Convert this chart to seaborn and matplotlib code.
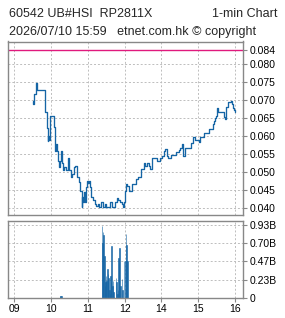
import matplotlib
matplotlib.use("Agg")
import matplotlib.pyplot as plt
import seaborn as sns
import pandas as pd

title_left = "60542 UB#HSI  RP2811X"
title_right = "1-min Chart"
subtitle = "2026/07/10 15:59   etnet.com.hk \u00a9 copyright"

price_times = ["09:30","09:31","09:33","09:35","09:38","09:48","09:50","09:53","09:54","09:55",
               "09:56","09:57","09:58","09:59","10:04","10:05","10:06","10:07","10:08","10:10",
               "10:12","10:13","10:14","10:16","10:17","10:18","10:20","10:22","10:23","10:25",
               "10:28","10:30","10:32","10:34","10:38","10:39","10:42","10:46","10:47","10:50",
               "10:51","10:52","10:54","10:55","10:57","10:58","11:00","11:02","11:04","11:06",
               "11:09","11:11","11:14","11:17","11:19","11:22","11:25","11:28","11:30","11:37",
               "11:40","11:44","11:47","11:49","11:52","11:55","11:57","11:59",
               "13:01","13:02","13:04","13:08","13:12","13:18","13:22","13:26","13:31","13:34",
               "13:37","13:40","13:42","13:45","13:53","13:58","14:01","14:04","14:06","14:09",
               "14:11","14:15","14:24","14:28","14:31","14:34","14:35","14:36","14:38","14:49",
               "14:52","14:54","15:01","15:03","15:10","15:18","15:24","15:26","15:28","15:29",
               "15:30","15:32","15:42","15:43","15:45","15:46","15:49","15:53","15:55","15:56",
               "15:58","16:00"]
price_values = [0.0699,0.0689,0.0716,0.0747,0.0727,0.0727,0.0666,0.0662,0.0624,0.0587,
                0.0600,0.0590,0.0643,0.0655,0.0655,0.0626,0.0583,0.0560,0.0578,0.0560,
                0.0532,0.0514,0.0532,0.0555,0.0560,0.0527,0.0505,0.0514,0.0515,0.0505,
                0.0540,0.0505,0.0486,0.0495,0.0514,0.0518,0.0486,0.0472,0.0449,0.0403,
                0.0431,0.0417,0.0445,0.0417,0.0458,0.0477,0.0469,0.0477,0.0458,0.0431,
                0.0422,0.0412,0.0407,0.0412,0.0403,0.0417,0.0403,0.0412,0.0403,0.0417,
                0.0403,0.0417,0.0428,0.0422,0.0417,0.0412,0.0403,0.0417,
                0.0449,0.0467,0.0463,0.0449,0.0467,0.0481,0.0486,0.0509,0.0527,0.0518,
                0.0527,0.0518,0.0509,0.0540,0.0530,0.0540,0.0546,0.0560,0.0564,0.0546,
                0.0540,0.0548,0.0555,0.0561,0.0567,0.0578,0.0555,0.0546,0.0567,0.0580,
                0.0598,0.0589,0.0583,0.0598,0.0610,0.0619,0.0633,0.0643,0.0652,0.0656,
                0.0678,0.0668,0.0654,0.0647,0.0672,0.0680,0.0695,0.0697,0.0689,0.0678,
                0.0672,0.0666]

vol_times = ["10:15","10:16","10:17",
             "11:23","11:24","11:25","11:26","11:27","11:28","11:29","11:30","11:31","11:32",
             "11:33","11:34","11:35","11:36","11:37","11:38","11:39","11:40","11:41","11:42",
             "11:43","11:46","11:47","11:48","11:49","11:50","11:51","11:52","11:53","11:56",
             "11:57","11:59","13:01","13:02","13:03","13:04","13:05"]
vol_values = [0.03,0.03,0.02,
              0.92,0.70,0.84,0.80,0.53,0.15,0.20,0.28,0.22,0.37,
              0.30,0.26,0.10,0.05,0.28,0.20,0.66,0.15,0.22,0.08,
              0.01,0.26,0.20,0.05,0.10,0.51,0.45,0.64,0.15,0.24,
              0.10,0.47,0.47,0.82,0.68,0.47,0.47]  # billions

ref_price = 0.084
price_ticks = [0.040,0.045,0.050,0.055,0.060,0.065,0.070,0.075,0.080]
vol_ticks = [0, 0.2333, 0.4667, 0.70, 0.9333]
vol_tick_labels = ["0","0.23B","0.47B","0.70B","0.93B"]
hour_times = ["09:00","10:00","11:00","12:00","14:00","15:00","16:00"]
hour_labels = ["09","10","11","12","14","15","16"]


def pos(t):
    h, m = map(int, t.split(":"))
    mins = (h - 9) * 60 + m
    if h >= 13:
        mins -= 60
    return mins


sns.set_style("white")
plt.rcParams['font.family'] = ['Liberation Sans', 'DejaVu Sans']

W, H = 285, 318
fig = plt.figure(figsize=(W / 100, H / 100), dpi=100)
L, R = 8, 243
ax1 = fig.add_axes([L / W, 1 - 215 / H, (R - L) / W, (215 - 41.5) / H])
ax2 = fig.add_axes([L / W, 1 - 298 / H, (R - L) / W, (298 - 221) / H], sharex=ax1)

line_color = "#1565a5"
spine_color = "#888888"
grid_kw = dict(color="#bdbdbd", linestyle=(0, (2, 2)), linewidth=0.7)

df_p = pd.DataFrame({"t": [pos(t) for t in price_times], "price": price_values})
df_v = pd.DataFrame({"t": [pos(t) for t in vol_times], "vol": vol_values})

sns.lineplot(data=df_p, x="t", y="price", ax=ax1, color=line_color, linewidth=0.95,
             drawstyle="steps-post", estimator=None, sort=False)
ax1.axhline(ref_price, color="#e0197d", linewidth=1.0)

sns.histplot(data=df_v, x="t", weights="vol", discrete=True, ax=ax2, color=line_color,
             alpha=1, edgecolor=line_color, linewidth=0.4)

hour_pos = [pos(t) for t in hour_times]
for ax in (ax1, ax2):
    ax.set_xlim(-10, 373)
    ax.set_xlabel("")
    ax.set_ylabel("")
    for s in ax.spines.values():
        s.set_visible(True)
        s.set_color(spine_color)
        s.set_linewidth(1.0)
    ax.yaxis.tick_right()
    ax.tick_params(axis="y", which="both", direction="out", length=3, width=0.8,
                   color=spine_color, labelsize=7.5, pad=1.5, labelcolor="black",
                   left=False, right=True)
    ax.set_xticks(hour_pos)
    for hp in hour_pos:
        ax.axvline(hp, **grid_kw, zorder=0)

ax1.set_ylim(0.03814, 0.0863)
ax1.set_yticks(price_ticks + [ref_price])
ax1.set_yticklabels([f"{v:.3f}" for v in price_ticks + [ref_price]])
for v in price_ticks:
    ax1.axhline(v, **grid_kw, zorder=0)
ax1.tick_params(axis="x", bottom=False, labelbottom=False)

ax2.set_ylim(0, 0.98)
ax2.set_yticks(vol_ticks)
ax2.set_yticklabels(vol_tick_labels)
for v in vol_ticks[1:]:
    ax2.axhline(v, **grid_kw, zorder=0)
ax2.set_xticklabels(hour_labels)
ax2.tick_params(axis="x", bottom=True, direction="out", length=3, width=0.8,
                color=spine_color, labelsize=7.5, pad=1.5, labelcolor="black")

fig.text(9 / W, 1 - 16.7 / H, title_left, fontsize=9, va="baseline", ha="left")
fig.text(278 / W, 1 - 16.7 / H, title_right, fontsize=9, va="baseline", ha="right")
fig.text(9 / W, 1 - 35 / H, subtitle, fontsize=9, va="baseline", ha="left")

fig.savefig("out.png", dpi=100)
